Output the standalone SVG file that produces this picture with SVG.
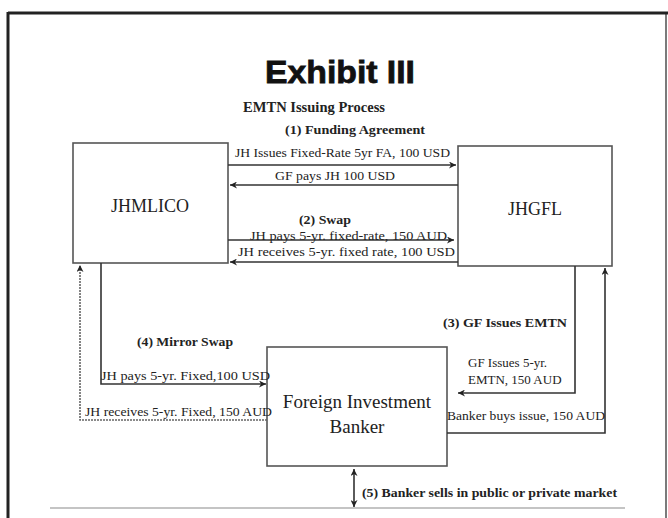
<svg xmlns="http://www.w3.org/2000/svg" width="668" height="518" viewBox="0 0 668 518">
<defs>
<marker id="ah" viewBox="0 0 10 10" refX="10" refY="5" markerWidth="9" markerHeight="7" markerUnits="userSpaceOnUse" orient="auto-start-reverse">
<path d="M0,0 L10,5 L0,10 L3,5 z" fill="#222"/>
</marker>
<style>
.frame{stroke:#222;fill:none}
.box{fill:#fff;stroke:#555;stroke-width:1.6}
.line{stroke:#333;stroke-width:1.6;fill:none}
.dot{stroke:#666;stroke-width:1.6;fill:none;stroke-dasharray:2 1}
.t{font-family:"Liberation Serif","Times New Roman",serif;fill:#222}
.lbl{font-size:12px}
.b{font-weight:bold;font-size:12.5px}
.node{font-size:18px}
</style>
</defs>
<rect width="668" height="518" fill="#fff"/>
<g id="frame">
<line class="frame" x1="8" y1="13" x2="668" y2="13" stroke-width="3"/>
<line class="frame" x1="8" y1="12" x2="8" y2="518" stroke-width="3"/>
<line class="frame" x1="666" y1="13" x2="666" y2="518" stroke-width="1.2" stroke="#888"/>
<line x1="50" y1="508" x2="625" y2="508" stroke="#c4c4c4" stroke-width="2"/>
</g>
<g id="titles">
<text x="265" y="83" textLength="150" lengthAdjust="spacingAndGlyphs" font-family="'Liberation Sans',Arial,sans-serif" font-weight="bold" font-size="32" fill="#111" stroke="#111" stroke-width="0.8">Exhibit III</text>
<text class="t" x="243" y="112" textLength="142" lengthAdjust="spacingAndGlyphs" font-weight="bold" font-size="15">EMTN Issuing Process</text>
</g>
<g id="JHMLICO">
<rect class="box" x="73" y="143" width="155" height="120"/>
<text class="t node" x="150" y="212" text-anchor="middle">JHMLICO</text>
</g>
<g id="JHGFL">
<rect class="box" x="458" y="146" width="154" height="120"/>
<text class="t node" x="535" y="215" text-anchor="middle">JHGFL</text>
</g>
<g id="banker">
<rect class="box" x="267" y="347" width="180" height="119"/>
<text class="t" x="357" y="408" text-anchor="middle" font-size="19">Foreign Investment</text>
<text class="t" x="357" y="433" text-anchor="middle" font-size="19">Banker</text>
</g>
<g id="connectors">
<line class="line" x1="228" y1="165" x2="456" y2="165" marker-end="url(#ah)"/>
<line class="line" x1="458" y1="185" x2="230" y2="185" marker-end="url(#ah)"/>
<line class="line" x1="228" y1="240" x2="454" y2="240" marker-end="url(#ah)"/>
<line class="line" x1="458" y1="262" x2="230" y2="262" marker-end="url(#ah)"/>
<polyline class="dot" points="267,420 80,420 80,265" marker-end="url(#ah)"/>
<polyline class="line" points="101,263 101,384 266,384" marker-end="url(#ah)"/>
<polyline class="line" points="575,266 575,393 458,393" marker-end="url(#ah)"/>
<polyline class="line" points="447,433 605,433 605,268" marker-end="url(#ah)"/>
<line class="line" x1="354" y1="469" x2="354" y2="507" marker-start="url(#ah)" marker-end="url(#ah)"/>
</g>
<g id="labels">
<text class="t b" x="285" y="134" textLength="140" lengthAdjust="spacingAndGlyphs">(1) Funding Agreement</text>
<text class="t lbl" x="235" y="157" textLength="215" lengthAdjust="spacingAndGlyphs">JH Issues Fixed-Rate 5yr FA, 100 USD</text>
<text class="t lbl" x="275" y="180" textLength="120" lengthAdjust="spacingAndGlyphs">GF pays JH 100 USD</text>
<text class="t b" x="299" y="224" textLength="52" lengthAdjust="spacingAndGlyphs">(2) Swap</text>
<text class="t lbl" x="250" y="240" textLength="197" lengthAdjust="spacingAndGlyphs">JH pays 5-yr. fixed-rate, 150 AUD</text>
<text class="t lbl" x="238" y="256" textLength="217" lengthAdjust="spacingAndGlyphs">JH receives 5-yr. fixed rate, 100 USD</text>
<text class="t b" x="137" y="346" textLength="96" lengthAdjust="spacingAndGlyphs">(4) Mirror Swap</text>
<text class="t lbl" x="101" y="380" textLength="169" lengthAdjust="spacingAndGlyphs">JH pays 5-yr. Fixed,100 USD</text>
<text class="t lbl" x="85" y="416" textLength="187" lengthAdjust="spacingAndGlyphs">JH receives 5-yr. Fixed, 150 AUD</text>
<text class="t b" x="443" y="327" textLength="124" lengthAdjust="spacingAndGlyphs">(3) GF Issues EMTN</text>
<text class="t" x="468" y="367" font-size="13">GF Issues 5-yr.</text>
<text class="t" x="468" y="384" font-size="13">EMTN, 150 AUD</text>
<text class="t lbl" x="447" y="420" textLength="158" lengthAdjust="spacingAndGlyphs">Banker buys issue, 150 AUD</text>
<text class="t b" x="362" y="497" textLength="255" lengthAdjust="spacingAndGlyphs">(5) Banker sells in public or private market</text>
</g>
</svg>
